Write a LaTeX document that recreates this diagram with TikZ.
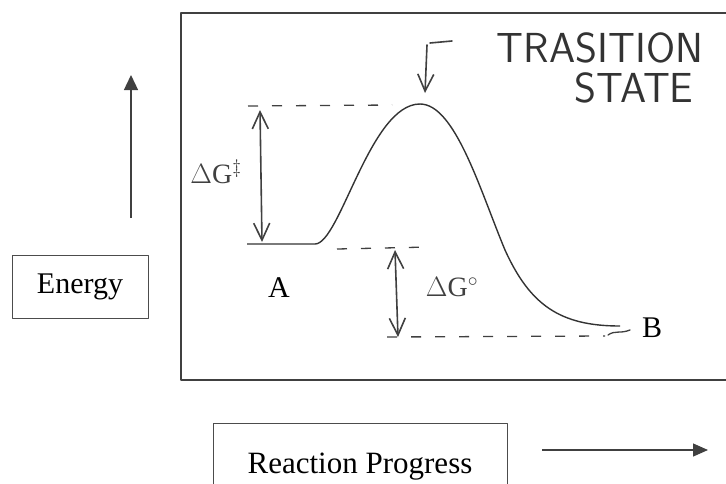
\RequirePackage{fix-cm}
\documentclass[tikz,border=0pt]{standalone}
\usepackage{fontspec}
\setmainfont{Liberation Serif}
\usetikzlibrary{arrows.meta}

\tikzset{barb/.tip={Straight Barb[length=17pt,width=16pt]}}

\begin{document}
\begin{tikzpicture}[x=1pt,y=-1pt,line join=round,
  frame/.style={draw=black!75,line width=1.8pt},
  labelbox/.style={draw=black!70,line width=1pt,inner sep=0pt,font=\fontsize{30}{36}\selectfont},
  axis/.style={draw=black!75,line width=1.3pt},
  curve/.style={draw=black!80,line width=1.4pt},
  guide/.style={draw=black!75,line width=1.3pt,dash pattern=on 10pt off 14pt},
  hand/.style={draw=black!75,line width=1.6pt,line cap=round},
  handtext/.style={text=black!80,font=\sffamily\fontsize{42}{48}\selectfont},
  handmath/.style={text=black!75,font=\fontsize{28}{34}\selectfont}]
  \useasboundingbox (0,0) rectangle (726,483);

  % axes
  \node[labelbox,minimum width=136pt,minimum height=63pt] (energy) at (80,286.5) {Energy};
  \node[labelbox,minimum width=294pt,minimum height=98pt,font=\fontsize{31}{37}\selectfont] (progress) at (360,472) {};
  \node[font=\fontsize{31}{37}\selectfont] (progtext) at (360,467) {Reaction Progress};
  \coordinate (up0) at (131,218);
  \coordinate (up1) at (131,75);
  \coordinate (right0) at (542,450);
  \coordinate (right1) at (708,450);
  \draw[axis,-{Triangle[length=15pt,width=14pt]}] (up0) -- (up1);
  \draw[axis,-{Triangle[length=15pt,width=13pt]}] (right0) -- (right1);

  % frame
  \draw[frame] (740,13) -- (181,13) -- (181,380) -- (740,380);

  % energy profile
  \coordinate (A0) at (247,244);
  \coordinate (A1) at (315,244);
  \coordinate (TS) at (420,104);
  \coordinate (fall) at (505,250);
  \coordinate (B0) at (620,326);
  \draw[curve] (A0) -- (A1) .. controls (340,244) and (370,104) .. (TS)
    .. controls (455,104) and (480,190) .. (fall)
    .. controls (530,305) and (560,326) .. (B0);
  \node[font=\fontsize{30}{36}\selectfont] (A) at (279,288) {A};
  \node[font=\fontsize{30}{36}\selectfont] (B) at (652,328) {B};

  % guide lines
  \coordinate (top0) at (248,106);
  \coordinate (top1) at (392,105);
  \coordinate (mid0) at (337,249);
  \coordinate (mid1) at (430,247);
  \coordinate (low0) at (387,337);
  \coordinate (low1) at (605,336);
  \coordinate (tilde) at (630,330);
  \draw[guide] (top0) -- (top1);
  \draw[guide] (mid0) -- (mid1);
  \draw[guide] (low0) -- (low1);
  \draw[hand,line width=1.3pt] (608,335) .. controls (615,330) and (620,334) .. (tilde);

  % free energy arrows
  \coordinate (act0) at (260,110);
  \coordinate (act1) at (262,242);
  \coordinate (rxn0) at (395,250);
  \coordinate (rxn1) at (398,337);
  \draw[hand,barb-barb] (act0) -- (act1);
  \draw[hand,barb-barb] (rxn0) -- (rxn1);
  \node[handmath] (dGact) at (216,172) {$\Delta\mathrm{G}^{\ddagger}$};
  \node[handmath] (dGrxn) at (452,287) {$\Delta\mathrm{G}^{\circ}$};

  % transition state
  \coordinate (ts0) at (427,45);
  \coordinate (ts1) at (425,93);
  \draw[hand,-barb] (ts0) -- (ts1);
  \draw[hand] (430,43) -- (452,41);
  \node[handtext] (trans) at (600,48) {TRASITION};
  \node[handtext] (state) at (634,88) {STATE};
\end{tikzpicture}
\end{document}
